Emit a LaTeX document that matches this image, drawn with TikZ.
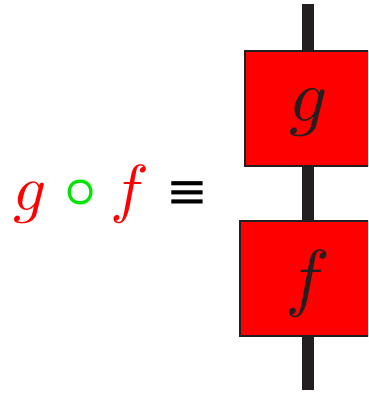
\documentclass[tikz,border=0pt]{standalone}
\usepackage{fontspec}
\newfontfamily\symfont{DejaVu Sans}
\usetikzlibrary{positioning}
\definecolor{BoxRed}{RGB}{255,0,0}
\definecolor{OpGreen}{RGB}{0,230,0}
\definecolor{WireBlack}{RGB}{35,31,32}
\tikzset{
  morph/.style={draw=WireBlack,line width=1.2pt,fill=BoxRed,minimum height=115pt,
    inner sep=0pt,text=WireBlack},
  morphlabel/.style={scale=7.5,inner sep=0pt,text=WireBlack},
  wire/.style={WireBlack,line width=12pt},
  lhs/.style={anchor=base,inner sep=0pt}
}
\begin{document}
\begin{tikzpicture}[x=1pt,y=-1pt]
  \useasboundingbox (0,0) rectangle (368,393);
  \clip (0,0) rectangle (368,393);
  \coordinate (wtop) at (308,4);
  \coordinate (wbot) at (308,390);
  \node[morph,minimum width=126pt] (gbox) at (308,108.5){};
  \node[morph,minimum width=136pt] (fbox) at (308,278.5){};
  \draw[wire] (wtop) -- (gbox.north);
  \draw[wire] (gbox.south) -- (fbox.north);
  \draw[wire] (fbox.south) -- (wbot);
  \node[morphlabel] (gname) at ([shift={(1,4)}]gbox.center){$g$};
  \node[morphlabel] (fname) at ([shift={(0,5)}]fbox.center){$f$};
  \node[lhs,BoxRed,scale=6.5] (gl) at (30,210){$g$};
  \node[lhs,OpGreen,scale=5.6,font=\boldmath] (ol) at (81,206){$\circ$};
  \node[lhs,BoxRed,scale=6.5] (fl) at (130,210){$f$};
  \node[lhs,font=\symfont,scale=5] (eq) at (187.5,208.5){≡};
\end{tikzpicture}
\end{document}
